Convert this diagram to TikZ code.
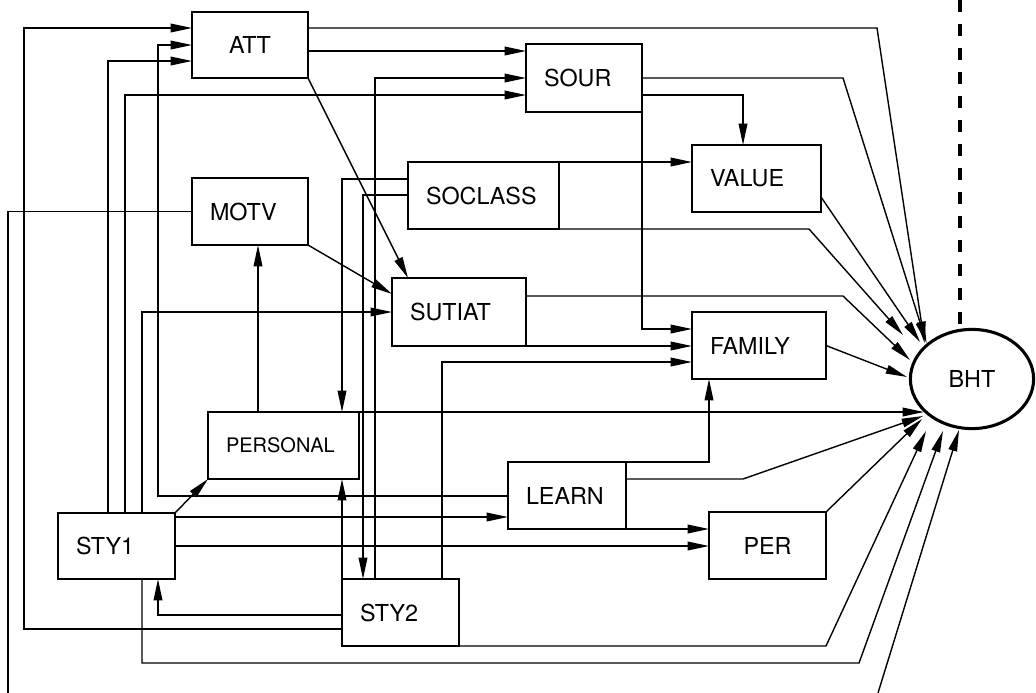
\documentclass[tikz,border=0pt]{standalone}
\usepackage{fontspec}
\setmainfont{TeX Gyre Heros}
\usetikzlibrary{arrows.meta,shapes.geometric}
\begin{document}
\begin{tikzpicture}[x=0.75pt,y=-0.75pt,
  box/.style={draw, line width=1pt, inner ysep=0pt, outer sep=0pt, font=\fontsize{17.5}{20}\selectfont},
  bxl/.style 2 args={box, text width=#1, inner xsep=13.5pt, minimum height=#2, align=left},
  bxc/.style 2 args={box, minimum width=#1, inner xsep=0pt, minimum height=#2},
  con/.style={line width=1.05pt},
  arr/.style={con, -{Triangle[length=16pt,width=6.5pt]}},
  dashline/.style={line width=2.3pt, dash pattern=on 9pt off 9pt},
]
\useasboundingbox (0,0) rectangle (1036,693);

% nodes
\node[bxc={87pt}{49.5pt}] (ATT) at (250,45) {ATT};
\node[bxl={60pt}{50.25pt}] (MOTV) at (250,211.5) {MOTV};
\node[bxl={60pt}{51pt}] (SOUR) at (584,78) {SOUR};
\node[bxl={86.25pt}{50.25pt}] (SOCLASS) at (483.5,195.5) {SOCLASS};
\node[bxl={69.75pt}{50.25pt}] (VALUE) at (756.5,178.5) {VALUE};
\node[bxl={73.5pt}{51pt}] (SUTIAT) at (459,312) {SUTIAT};
\node[bxl={73.5pt}{50.25pt}] (FAMILY) at (759,345.5) {FAMILY};
\node[bxl={86.25pt}{50.25pt}, font=\fontsize{15}{18}\selectfont] (PERSONAL) at (283.5,445.5) {PERSONAL};
\node[bxl={61.5pt}{50.25pt}] (LEARN) at (567,495.5) {LEARN};
\node[bxc={87.75pt}{50.25pt}] (PER) at (767.5,545.5) {PER};
\node[bxl={60.75pt}{49.5pt}] (STY1) at (116.5,546) {STY1};
\node[bxl={60.75pt}{50.25pt}] (STY2) at (400.5,612.5) {STY2};
\node[ellipse, draw, line width=2.3pt, minimum width=92.4pt, minimum height=74.4pt,
      inner sep=0pt, outer sep=0pt, font=\fontsize{17.5}{20}\selectfont] (BHT) at (972,379) {BHT};
\coordinate (offA) at (8,693);
\coordinate (offB) at (878,693);
\coordinate (dashtop) at (960,0);

% connectors
\draw[arr] (STY2.west |- 0,629) -| (24,28) -- (ATT.west |- 0,28);
\draw[arr] (LEARN.west |- 0,496) -| (158,45) -- (ATT.west |- 0,45);
\draw[arr] (STY1.north -| 108,0) |- (ATT.west |- 0,61);
\draw[arr] (STY1.north -| 125,0) |- (SOUR.west |- 0,95);
\draw[arr] (STY1.north -| 142,0) |- (SUTIAT.west);
\draw[arr] (STY2.north -| 375,0) |- (SOUR.west);
\draw[arr] (ATT.east |- 0,51) -- (SOUR.west |- 0,51);
\draw[arr] (ATT.east |- 0,28) -- (877,28) -- ([shift={(-47.5,-36)}]BHT.center);
\draw[arr] (ATT.south east) -- (SUTIAT.north -| 408,0);
\draw[arr] (SOUR.east) -- (843,78) -- ([shift={(-45.5,-36)}]BHT.center);
\draw[arr] (SOUR.east |- 0,95) -| (VALUE.north -| 743,0);
\draw[arr] (SOUR.south east) |- (FAMILY.west |- 0,329);
\draw[arr] (SOCLASS.north east) -- (VALUE.west |- 0,162);
\draw[arr] (SOCLASS.south east) -- (809,229) -- ([shift={(-69,-44)}]BHT.center);
\draw[arr] (SOCLASS.west |- 0,179) -| (PERSONAL.north -| 342,0);
\draw[arr] (SOCLASS.west |- 0,195) -| (STY2.north -| 363,0);
\draw[arr] (VALUE.east |- 0,197) -- ([shift={(-52,-37)}]BHT.center);
\draw[con] (MOTV.west) -| (offA);
\draw[arr] (MOTV.south east) -- (SUTIAT.west |- 0,294);
\draw[arr] (PERSONAL.north -| 258,0) -- (MOTV.south -| 258,0);
\draw[arr] (SUTIAT.east |- 0,296) -- (843,296) -- ([shift={(-62,-19)}]BHT.center);
\draw[arr] (SUTIAT.south east) -- (FAMILY.west |- 0,346);
\draw[arr] (STY2.north -| 442,0) |- (FAMILY.west |- 0,362);
\draw[arr] (FAMILY.east) -- ([shift={(-65,-2)}]BHT.center);
\draw[arr] (LEARN.north east) -| (FAMILY.south -| 709,0);
\draw[arr] (PERSONAL.north east) -- ([shift={(-48,33)}]BHT.center);
\draw[arr] (LEARN.east |- 0,479) -- (743,479) -- ([shift={(-49,37)}]BHT.center);
\draw[arr] (LEARN.south east) -- (PER.west |- 0,529);
\draw[arr] (STY1.east |- 0,517) -- (LEARN.west |- 0,517);
\draw[arr] (STY1.east) -- (PER.west |- STY1.east);
\draw[arr] (STY1.north east) -- (PERSONAL.south west);
\draw[arr] (PER.north east) -- ([shift={(-50,40)}]BHT.center);
\draw[arr] (STY2.north west) -- (PERSONAL.south -| 342,0);
\draw[arr] (STY2.west |- 0,615) -| (STY1.south -| 158,0);
\draw[arr] (STY2.south east) -- (826,646) -- ([shift={(-46,52)}]BHT.center);
\draw[arr] (STY1.south -| 142,0) |- (859,663) -- ([shift={(-29,52)}]BHT.center);
\draw[arr] (offB) -- ([shift={(-13,51)}]BHT.center);
\draw[dashline] (dashtop) -- ([shift={(-12,-50)}]BHT.center);
\end{tikzpicture}
\end{document}
